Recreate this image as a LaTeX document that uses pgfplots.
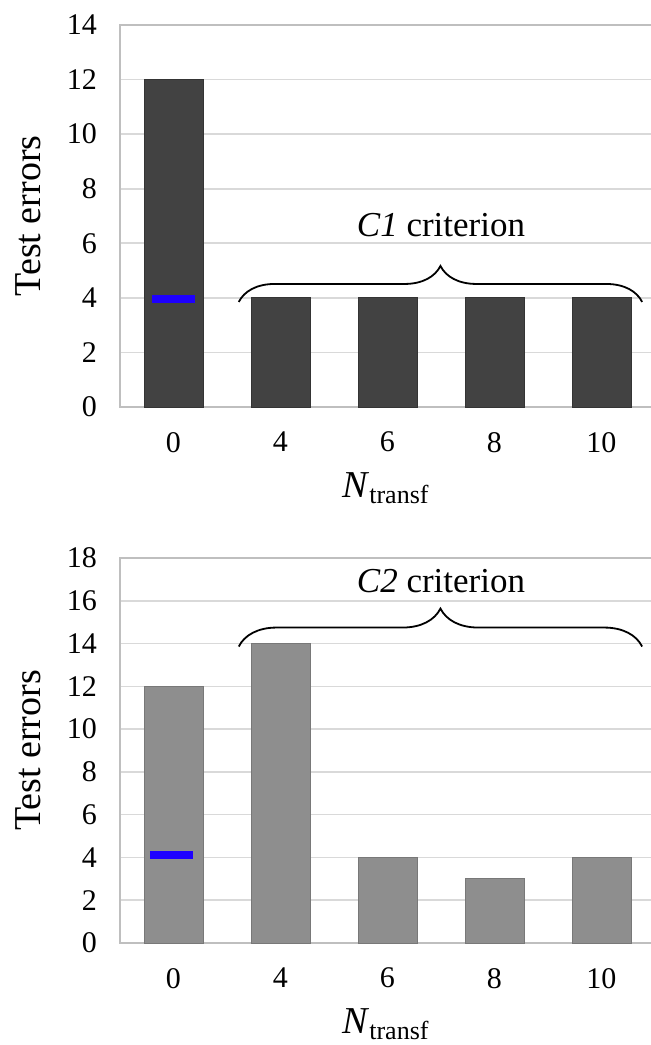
\documentclass[border=0pt]{standalone}
\usepackage{fontspec}
\setmainfont{Liberation Serif}
\usepackage{pgfplots}
\pgfplotsset{compat=1.18}
\usetikzlibrary{decorations.pathreplacing}

\definecolor{darkbar}{RGB}{66,66,66}
\definecolor{darkedge}{RGB}{52,52,52}
\definecolor{lightbar}{RGB}{142,142,142}
\definecolor{lightedge}{RGB}{120,120,120}
\definecolor{markblue}{RGB}{30,0,255}
\definecolor{gridc}{RGB}{217,217,217}
\definecolor{axc}{RGB}{191,191,191}

\pgfplotsset{
  mystyle/.style={
    scale only axis, width=267.5pt,
    xmin=-0.5, xmax=4.5,
    xtick={0,1,2,3,4}, xticklabels={0,4,6,8,10},
    ymin=0,
    ymajorgrids, grid style={gridc, line width=0.8pt},
    axis line style={axc, line width=0.8pt},
    major tick length=0pt,
    tick label style={font=\fontsize{15}{17}\selectfont},
    /pgf/number format/assume math mode=true,
    yticklabel style={xshift=-8pt},
    xticklabel style={yshift=-9pt},
    ylabel={Test errors},
    ylabel style={font=\fontsize{19}{21}\selectfont, at={([xshift=-46pt]axis description cs:0,0.5)}, anchor=center},
    xlabel={\textit{N}\textsubscript{\fontsize{13}{14}\selectfont transf}},
    xlabel style={font=\fontsize{19}{21}\selectfont, at={(axis description cs:0.497,0)}, anchor=base, yshift=-45pt},
    clip=false,
  }
}

\pgfplotstableread{
x y
0 12
1 4
2 4
3 4
4 4
}\topdata

\pgfplotstableread{
x y
0 12
1 14
2 4
3 3
4 4
}\bottomdata

\begin{document}
\begin{tikzpicture}
\useasboundingbox (-60pt,-319pt) rectangle (265pt,203.5pt);

\begin{axis}[mystyle, at={(0,0)}, anchor=south west, height=191pt,
  ymax=14, ytick={0,2,...,14}]
  \addplot[ybar, bar width=0.55, fill=darkbar, draw=darkedge] table[x=x,y=y] {\topdata};
  \addplot[sharp plot, markblue, line width=4pt, forget plot] coordinates {(-0.2,3.95) (0.2,3.95)};
  \draw[decorate, decoration={brace, amplitude=18pt}, line width=0.9pt] (axis cs:0.61,3.85) -- (axis cs:4.38,3.85);
  \node[font=\fontsize{17.5}{19}\selectfont] at (axis cs:2.5,6.67) {\textit{C1} criterion};
\end{axis}

\begin{axis}[mystyle, at={(0,-268pt)}, anchor=south west, height=192.5pt,
  ymax=18, ytick={0,2,...,18}]
  \addplot[ybar, bar width=0.55, fill=lightbar, draw=lightedge] table[x=x,y=y] {\bottomdata};
  \addplot[sharp plot, markblue, line width=4pt, forget plot] coordinates {(-0.22,4.1) (0.18,4.1)};
  \draw[decorate, decoration={brace, amplitude=19pt}, line width=0.9pt] (axis cs:0.61,13.86) -- (axis cs:4.38,13.86);
  \node[font=\fontsize{17.5}{19}\selectfont] at (axis cs:2.5,16.9) {\textit{C2} criterion};
\end{axis}
\end{tikzpicture}
\end{document}
